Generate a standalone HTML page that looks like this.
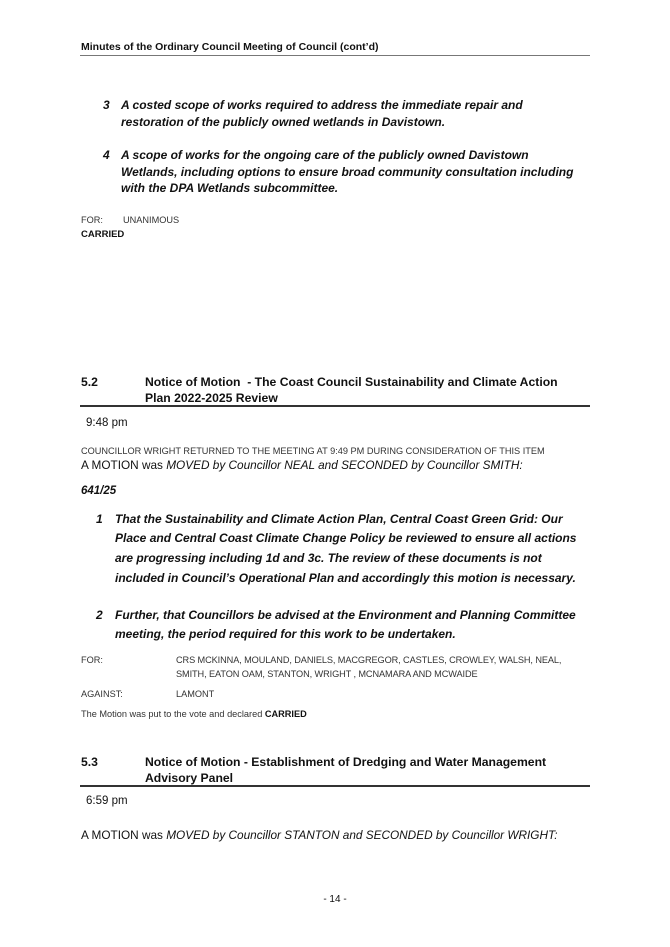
<!DOCTYPE html>
<html><head><meta charset="utf-8"><style>
body{margin:0;width:670px;height:947px;background:#fff;position:relative;font-family:"Liberation Sans",sans-serif;color:#111;overflow:hidden}
.t{position:absolute;white-space:nowrap;line-height:1}
.bi{font-weight:bold;font-style:italic;font-size:12px}
.bi2{font-weight:bold;font-style:italic;font-size:12px}
.s{font-size:9.2px;color:#333}
.h{font-weight:bold;font-size:12.2px}
.r{position:absolute;left:80px;width:510px;background:#333}
</style></head><body>
<div class="t" style="left:81px;top:42px;font-size:10.5px;font-weight:bold">Minutes of the Ordinary Council Meeting of Council (cont’d)</div>
<div class="r" style="top:55px;height:1px;background:#777"></div>

<div class="t bi" style="left:103px;top:99px">3</div>
<div class="t bi" style="left:121px;top:99px">A costed scope of works required to address the immediate repair and</div>
<div class="t bi" style="left:121px;top:116px">restoration of the publicly owned wetlands in Davistown.</div>
<div class="t bi" style="left:103px;top:149px">4</div>
<div class="t bi" style="left:121px;top:149px">A scope of works for the ongoing care of the publicly owned Davistown</div>
<div class="t bi" style="left:121px;top:166px">Wetlands, including options to ensure broad community consultation including</div>
<div class="t bi" style="left:121px;top:182px">with the DPA Wetlands subcommittee.</div>

<div class="t s" style="left:81px;top:216px">FOR:</div>
<div class="t s" style="left:123px;top:216px">UNANIMOUS</div>
<div class="t" style="left:81px;top:230px;font-size:9.5px;font-weight:bold">CARRIED</div>

<div class="t h" style="left:81px;top:376px">5.2</div>
<div class="t h" style="left:145px;top:376px">Notice of Motion &nbsp;- The Coast Council Sustainability and Climate Action</div>
<div class="t h" style="left:145px;top:392px">Plan 2022-2025 Review</div>
<div class="r" style="top:405px;height:2px"></div>
<div class="t" style="left:86px;top:418px;font-size:11.5px">9:48 pm</div>
<div class="t s" style="left:81px;top:447px">COUNCILLOR WRIGHT RETURNED TO THE MEETING AT 9:49 PM DURING CONSIDERATION OF THIS ITEM</div>
<div class="t" style="left:81px;top:460px;font-size:11.8px">A MOTION was <i>MOVED by Councillor NEAL and SECONDED by Councillor SMITH:</i></div>
<div class="t bi" style="left:81px;top:486px;font-size:11.5px">641/25</div>

<div class="t bi2" style="left:96px;top:513px">1</div>
<div class="t bi2" style="left:115px;top:513px">That the Sustainability and Climate Action Plan, Central Coast Green Grid: Our</div>
<div class="t bi2" style="left:115px;top:532px">Place and Central Coast Climate Change Policy be reviewed to ensure all actions</div>
<div class="t bi2" style="left:115px;top:552px">are progressing including 1d and 3c. The review of these documents is not</div>
<div class="t bi2" style="left:115px;top:572px">included in Council’s Operational Plan and accordingly this motion is necessary.</div>
<div class="t bi2" style="left:96px;top:609px">2</div>
<div class="t bi2" style="left:115px;top:609px">Further, that Councillors be advised at the Environment and Planning Committee</div>
<div class="t bi2" style="left:115px;top:628px">meeting, the period required for this work to be undertaken.</div>

<div class="t s" style="left:81px;top:656px">FOR:</div>
<div class="t s" style="left:176px;top:656px;letter-spacing:-0.1px">CRS MCKINNA, MOULAND, DANIELS, MACGREGOR, CASTLES, CROWLEY, WALSH, NEAL,</div>
<div class="t s" style="left:176px;top:670px;letter-spacing:-0.1px">SMITH, EATON OAM, STANTON, WRIGHT , MCNAMARA AND MCWAIDE</div>
<div class="t s" style="left:81px;top:690px">AGAINST:</div>
<div class="t s" style="left:176px;top:690px">LAMONT</div>
<div class="t s" style="left:81px;top:710px">The Motion was put to the vote and declared <b style="color:#111">CARRIED</b></div>

<div class="t h" style="left:81px;top:756px">5.3</div>
<div class="t h" style="left:145px;top:756px">Notice of Motion - Establishment of Dredging and Water Management</div>
<div class="t h" style="left:145px;top:772px">Advisory Panel</div>
<div class="r" style="top:785px;height:2px"></div>
<div class="t" style="left:86px;top:796px;font-size:11.5px">6:59 pm</div>
<div class="t" style="left:81px;top:830px;font-size:11.8px">A MOTION was <i>MOVED by Councillor STANTON and SECONDED by Councillor WRIGHT:</i></div>

<div class="t" style="left:0;width:670px;text-align:center;top:895px;font-size:10px">- 14 -</div>
</body></html>
